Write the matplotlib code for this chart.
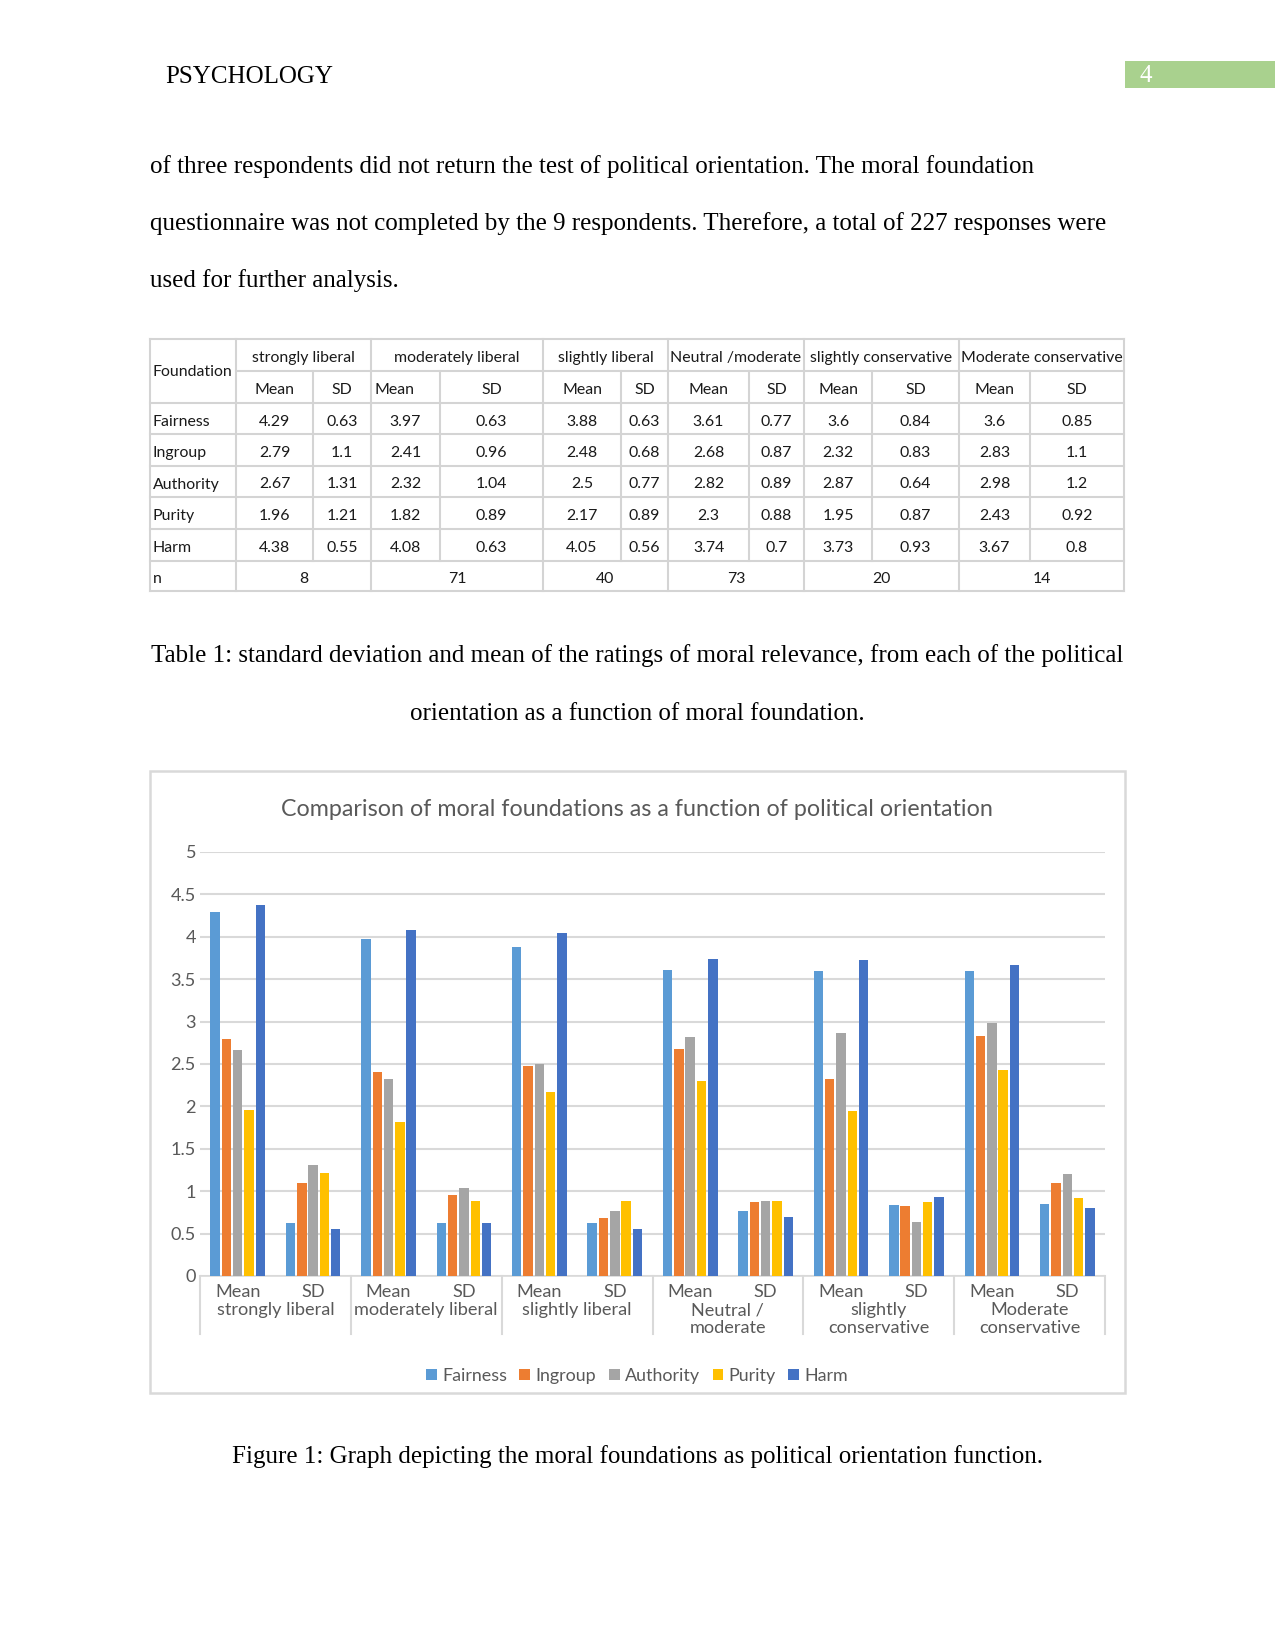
import numpy as np
import matplotlib.pyplot as plt
from matplotlib.patches import Rectangle

table_headers = ["strongly liberal", "moderately liberal", "slightly liberal",
                 "Neutral /moderate", "slightly conservative", "Moderate conservative"]
chart_groups = ["strongly liberal", "moderately liberal", "slightly liberal",
                "Neutral /\nmoderate", "slightly\nconservative", "Moderate\nconservative"]
foundations = ["Fairness", "Ingroup", "Authority", "Purity", "Harm"]

fairness_mean = [4.29, 3.97, 3.88, 3.61, 3.6, 3.6]
ingroup_mean = [2.79, 2.41, 2.48, 2.68, 2.32, 2.83]
authority_mean = [2.67, 2.32, 2.5, 2.82, 2.87, 2.98]
purity_mean = [1.96, 1.82, 2.17, 2.3, 1.95, 2.43]
harm_mean = [4.38, 4.08, 4.05, 3.74, 3.73, 3.67]

fairness_sd = [0.63, 0.63, 0.63, 0.77, 0.84, 0.85]
ingroup_sd = [1.1, 0.96, 0.68, 0.87, 0.83, 1.1]
authority_sd = [1.31, 1.04, 0.77, 0.89, 0.64, 1.2]
purity_sd = [1.21, 0.89, 0.89, 0.88, 0.87, 0.92]
harm_sd = [0.55, 0.63, 0.56, 0.7, 0.93, 0.8]

n_values = [8, 71, 40, 73, 20, 14]

mean_rows = [fairness_mean, ingroup_mean, authority_mean, purity_mean, harm_mean]
sd_rows = [fairness_sd, ingroup_sd, authority_sd, purity_sd, harm_sd]

colors = ["#5B9BD5", "#ED7D31", "#A5A5A5", "#FFC000", "#4472C4"]

W, H = 1275, 1650
serif = "Liberation Serif"
tfont = "Lato"
chartfont = "Lato"
gray = "#595959"

fig = plt.figure(figsize=(8.5, 11), dpi=150)
page = fig.add_axes([0, 0, 1, 1])
page.set_xlim(0, W)
page.set_ylim(H, 0)
page.axis("off")

# header
page.text(165, 77, "PSYCHOLOGY", fontsize=12, family=serif, va="center")
page.add_patch(Rectangle((1125, 61), 150, 27, color="#A9D18E", lw=0))
page.text(1140, 76, "4", fontsize=12, family=serif, color="white", va="center")

# body text
body = ["of three respondents did not return the test of political orientation. The moral foundation",
        "questionnaire was not completed by the 9 respondents. Therefore, a total of 227 responses were",
        "used for further analysis."]
for i, line in enumerate(body):
    page.text(150, 167 + i * 57, line, fontsize=12, family=serif, va="center")

# ---- table ----
col_x = [150, 236, 313, 371, 440, 543, 621, 668, 749, 804, 872, 959, 1030, 1124]
row_y = [339, 371, 403, 434, 466, 497, 529, 561, 591]
lc = "#D4D4D4"
tfs = 7.6
tc = "#1a1a1a"
for k, y in enumerate(row_y):
    x0 = col_x[1] if k == 1 else col_x[0]
    page.plot([x0, col_x[-1]], [y, y], color=lc, lw=1)
for k, x in enumerate(col_x):
    if k % 2 == 1 or k == 0 or k == len(col_x) - 1:
        page.plot([x, x], [row_y[0], row_y[-1]], color=lc, lw=1)
    else:
        page.plot([x, x], [row_y[1], row_y[-2]], color=lc, lw=1)

def cy(r):
    return (row_y[r] + row_y[r + 1]) / 2 + 3

def tt(x, y, s, ha="center"):
    page.text(x, y, s, family=tfont, fontsize=tfs, color=tc, ha=ha, va="center")

tt(153, (row_y[0] + row_y[2]) / 2 + 1, "Foundation", ha="left")
for g, name in enumerate(table_headers):
    xa, xm, xb = col_x[1 + 2 * g], col_x[2 + 2 * g], col_x[3 + 2 * g]
    tt((xa + xb) / 2, cy(0), name)
    if g == 1:
        tt(xa + 3, cy(1), "Mean", ha="left")
    else:
        tt((xa + xm) / 2, cy(1), "Mean")
    tt((xm + xb) / 2, cy(1), "SD")
    for r in range(5):
        tt((xa + xm) / 2, cy(2 + r), f"{mean_rows[r][g]:g}")
        tt((xm + xb) / 2, cy(2 + r), f"{sd_rows[r][g]:g}")
    tt((xa + xb) / 2, cy(7), str(n_values[g]))
for r, f in enumerate(foundations):
    tt(153, cy(2 + r), f, ha="left")
tt(153, cy(7), "n", ha="left")

# captions
page.text(637, 656, "Table 1: standard deviation and mean of the ratings of moral relevance, from each of the political",
          fontsize=12, family=serif, ha="center", va="center")
page.text(637, 714, "orientation as a function of moral foundation.", fontsize=12, family=serif,
          ha="center", va="center")
page.text(637, 1457, "Figure 1: Graph depicting the moral foundations as political orientation function.",
          fontsize=12, family=serif, ha="center", va="center")

# ---- chart ----
page.add_patch(Rectangle((150, 771), 975, 622, fill=False, edgecolor="#D9D9D9", lw=1.2))
page.text(637, 810, "Comparison of moral foundations as a function of political orientation",
          fontsize=11.2, family=chartfont, color=gray, ha="center", va="center")

x_left, x_right, y_top, y_bot = 200, 1105, 852, 1276
ax = fig.add_axes([x_left / W, 1 - y_bot / H, (x_right - x_left) / W, (y_bot - y_top) / H])
ax.patch.set_alpha(0)
x = np.arange(12)
for i, f in enumerate(foundations):
    vals = []
    for g in range(6):
        vals += [mean_rows[i][g], sd_rows[i][g]]
    ax.bar(x + (i - 2) * 0.15, vals, width=0.125, color=colors[i], label=f, zorder=3)
ax.set_xlim(-0.5, 11.5)
ax.set_ylim(0, 5)
yt = np.arange(0, 5.01, 0.5)
ax.set_yticks(yt)
ax.set_yticklabels([f"{v:g}" for v in yt], family=chartfont, fontsize=8.7, color=gray)
ax.grid(axis="y", color="#D9D9D9", lw=1, zorder=0)
for s in ["top", "left", "right"]:
    ax.spines[s].set_visible(False)
ax.spines["bottom"].set_color("#D9D9D9")
ax.set_xticks(x)
ax.set_xticklabels(["Mean", "SD"] * 6, family=chartfont, fontsize=8.7, color=gray)
ax.tick_params(length=0, pad=4)
ax.tick_params(axis="y", pad=2)

# group labels and separators
step = (x_right - x_left) / 6
for g, name in enumerate(chart_groups):
    page.text(x_left + step * (g + 0.5), 1302, name, family=chartfont, fontsize=8.7, color=gray,
              ha="center", va="top", linespacing=1.15)
for g in range(7):
    xs = x_left + step * g
    page.plot([xs, xs], [y_bot, 1334], color="#D9D9D9", lw=1)

fig.legend(loc="center", bbox_to_anchor=(637 / W, 1 - 1376 / H), ncol=5, frameon=False,
           handlelength=0.6, handleheight=0.6, handletextpad=0.3, columnspacing=0.7,
           prop={"family": chartfont, "size": 8.6}, labelcolor=gray)

fig.savefig("out.png", dpi=150)
